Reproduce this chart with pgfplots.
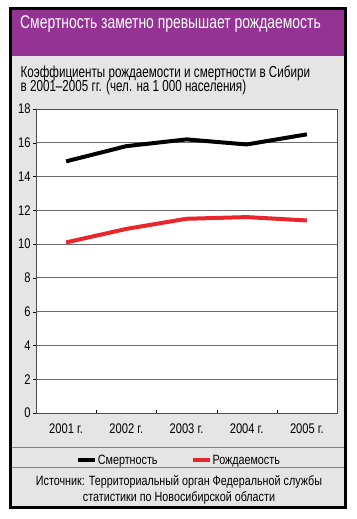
\documentclass[border=0pt]{standalone}
\usepackage{pgfplots}
\pgfplotsset{compat=1.18}
\usepackage{fontspec}
\setmainfont[FakeStretch=0.8]{Liberation Sans}
\newfontfamily\titlefont[FakeStretch=0.755,Ligatures=TeX]{Liberation Sans}
\newfontfamily\subfont[FakeStretch=0.73,Ligatures=TeX]{Liberation Sans}
\definecolor{hdr}{RGB}{148,51,148}
\definecolor{bg}{RGB}{229,229,229}
\definecolor{myred}{RGB}{232,38,43}
\begin{document}
\begin{tikzpicture}[x=1bp,y=1bp]
\fill[white] (0,0) rectangle (356,-519);
\fill[bg] (10,-9) rectangle (345,-507);
\fill[hdr] (10,-9) rectangle (345,-56);
\node[anchor=base west,inner sep=0,text=white,font=\titlefont\fontsize{18.5}{18.5}\selectfont] at (20,-28.3) {Смертность заметно превышает рождаемость};
\node[anchor=base west,inner sep=0,font=\subfont\fontsize{16}{16}\selectfont] at (20.5,-77.3) {Коэффициенты рождаемости и смертности в Сибири};
\node[anchor=base west,inner sep=0,font=\subfont\fontsize{16}{16}\selectfont] at (20.5,-91.7) {в 2001–2005 гг. (чел. на 1 000 населения)};
\begin{axis}[
  at={(36bp,-413bp)}, anchor=south west,
  scale only axis, width=301bp, height=304bp,
  xmin=-0.5, xmax=4.5, ymin=0, ymax=18,
  xtick={0,1,2,3,4},
  xticklabels={2001 г.,2002 г.,2003 г.,2004 г.,2005 г.},
  minor xtick={0.5,1.5,2.5,3.5},
  ytick={0,2,...,18},
  major x tick style={draw=none},
  minor x tick style={yshift=3bp,black},
  y tick style={black},
  tick align=outside,
  major tick length=3bp, minor tick length=3bp,
  tick pos=left,
  ymajorgrids,
  grid style={gray!85!black, line width=0.8bp},
  axis line style={gray!60!black, line width=0.8bp},
  axis background/.style={fill=white},
  /pgf/number format/assume math mode=true,
  tick label style={font=\fontsize{14}{14}\selectfont},
  xticklabel style={yshift=-4bp},
  yticklabel style={xshift=1bp},
  legend style={at={(0.473,-0.155)}, anchor=center, draw=none, fill=none,
    font=\fontsize{13.5}{13.5}\selectfont,
    /tikz/every even column/.style={column sep=32bp},
    nodes={inner sep=1bp}},
  legend columns=2,
  legend image code/.code={\draw[#1, line width=4bp] (0bp,0bp) -- (17bp,0bp);},
]
\addplot[black, line width=4bp] coordinates {(0,14.9) (1,15.8) (2,16.2) (3,15.9) (4,16.5)};
\addlegendentry{Смертность}
\addplot[myred, line width=4bp] coordinates {(0,10.1) (1,10.9) (2,11.5) (3,11.6) (4,11.4)};
\addlegendentry{Рождаемость}
\end{axis}
\draw[gray, line width=0.8bp] (11,-447) -- (344,-447);
\draw[gray, line width=0.8bp] (11,-467) -- (344,-467);
\node[anchor=base,inner sep=0,font=\fontsize{13.5}{13.5}\selectfont] at (179,-485.5) {Источник: Территориальный орган Федеральной службы};
\node[anchor=base,inner sep=0,font=\fontsize{13.5}{13.5}\selectfont] at (179,-501) {статистики по Новосибирской области};
\draw[black, line width=3bp] (10,-9) rectangle (345,-507);
\end{tikzpicture}
\end{document}
